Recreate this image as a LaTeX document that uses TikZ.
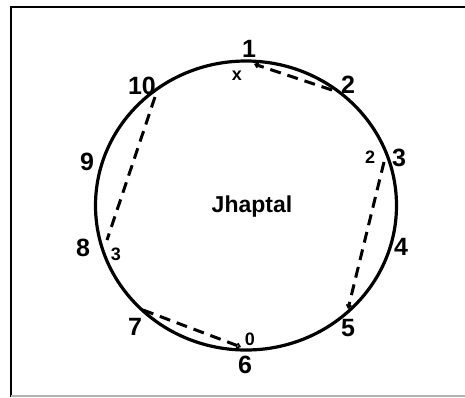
\documentclass[tikz,border=0pt]{standalone}
\usepackage{fontspec}
\setmainfont{Liberation Sans}
\usetikzlibrary{arrows.meta}
\begin{document}
\begin{tikzpicture}[x=1pt,y=-1pt,
  big/.style={font=\fontsize{25}{25}\selectfont\bfseries, inner sep=0pt},
  small/.style={font=\fontsize{18}{18}\selectfont\bfseries, inner sep=0pt},
  chord/.style={line width=3pt, dash pattern=on 11pt off 7pt},
  tip/.style={-{Straight Barb[length=3pt,width=5pt,line width=1.6pt]}}]
\useasboundingbox (0,0) rectangle (465,397);
% frame
\draw[line width=2.2pt] (11,397) -- (11,7) -- (465,7);
\draw[line width=1.5pt, black!30] (11,396) -- (465,396);
% circle
\draw[line width=3.2pt] (246,205.5) ellipse [x radius=150.5, y radius=144.5];
% chord end points
\coordinate (a1) at (254,64);
\coordinate (a2) at (332,90);
\coordinate (b1) at (384,162);
\coordinate (b2) at (348,309);
\coordinate (c1) at (143,310);
\coordinate (c2) at (241,347);
\coordinate (d1) at (155,97);
\coordinate (d2) at (107,240);
\draw[chord, tip] (a2) -- (a1);
\draw[chord, tip] (b1) -- (b2);
\draw[chord, tip] (c1) -- (c2);
\draw[chord] (d1) -- (d2);
% labels
\node[big] (n1) at (249,49) {1};
\node[big] (n2) at (348,85) {2};
\node[big] (n3) at (399,158) {3};
\node[big] (n4) at (401,247) {4};
\node[big] (n5) at (348,328) {5};
\node[big] (n6) at (245,365) {6};
\node[big] (n7) at (135,327) {7};
\node[big] (n8) at (83,248) {8};
\node[big] (n9) at (87,162) {9};
\node[big] (n10) at (142,86) {10};
\node[small] (sx) at (237,76) {x};
\node[small] (s2) at (370,157) {2};
\node[small] (s0) at (250,339) {0};
\node[small] (s3) at (116,254) {3};
\node[font=\fontsize{23}{23}\selectfont\bfseries, inner sep=0pt] (title) at (252,207) {Jhaptal};
\end{tikzpicture}
\end{document}
